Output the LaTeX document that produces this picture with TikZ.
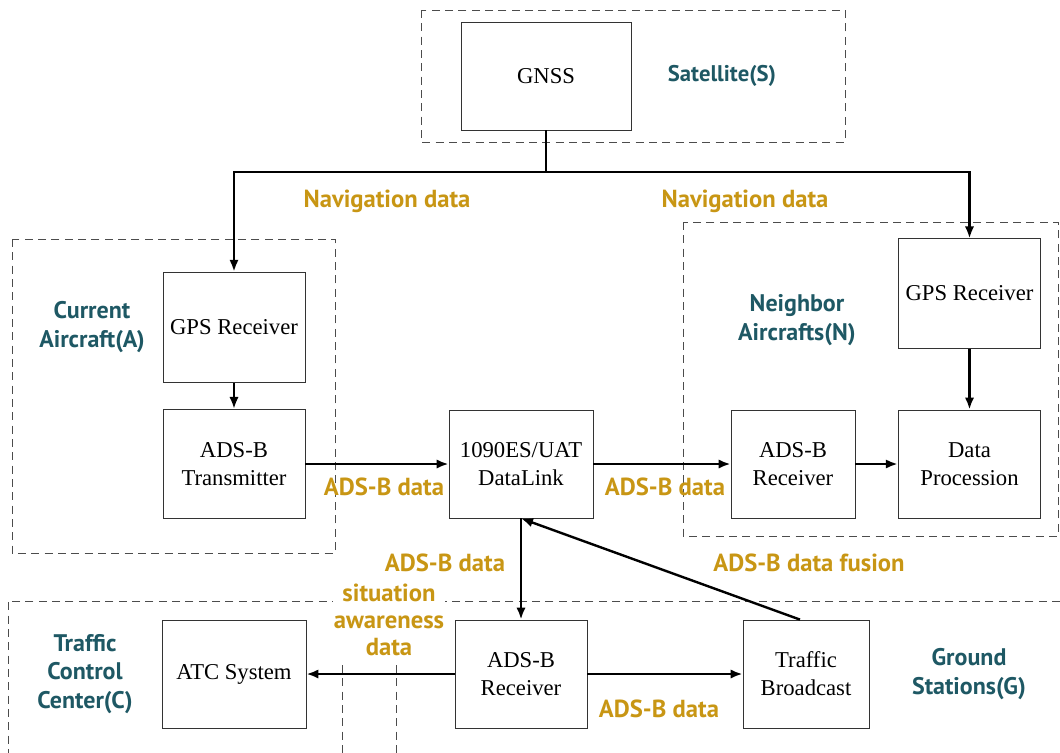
\documentclass[tikz,border=0pt]{standalone}
\usepackage{fontspec}
\setmainfont{Liberation Serif}
\newfontfamily\labelfont{PT Sans}
\usetikzlibrary{arrows.meta}
\definecolor{navgold}{RGB}{200,150,20}
\definecolor{groupteal}{RGB}{30,88,100}

\begin{document}
\begin{tikzpicture}[x=0.75pt, y=-0.75pt,
  box/.style={draw=black!80, line width=0.6pt, align=center, inner sep=0pt,
    minimum height=81pt, font=\fontsize{17}{21}\selectfont},
  group/.style={draw=black!70, dash pattern=on 6pt off 4pt, line width=0.6pt},
  grouplabel/.style={align=center, text=groupteal, inner sep=1pt,
    font=\labelfont\bfseries\fontsize{18}{21.5}\selectfont},
  datalabel/.style={align=center, text=navgold, inner sep=1pt,
    font=\labelfont\bfseries\fontsize{18.5}{20.5}\selectfont},
  flow/.style={-{Latex[length=9pt,width=7pt]}, line width=1.8pt}
]
\useasboundingbox (0,0) rectangle (1060,753);

\draw[group] (421,10) rectangle (845,142);
\draw[group] (12,239) rectangle (335,553);
\draw[group] (683,222) rectangle (1058,536);
\draw[group] (1060,601) -- (8,601) -- (8,753);
\draw[group] (342,665) -- (342,753);
\draw[group] (396,665) -- (396,753);

\node[box, minimum width=127.5pt] (gnss) at (546,76) {GNSS};
\node[box, minimum width=106.5pt, minimum height=83pt] (gpsA) at (234,327.5) {GPS Receiver};
\node[box, minimum width=106.5pt, minimum height=82pt] (trans) at (234,464) {ADS-B\\Transmitter};
\node[box, minimum width=108pt] (link) at (521,464) {1090ES/UAT\\DataLink};
\node[box, minimum width=107pt, minimum height=82pt] (gpsN) at (969.5,293.5) {GPS Receiver};
\node[box, minimum width=107pt] (proc) at (969.5,464) {Data\\Procession};
\node[box, minimum width=93pt] (rxN) at (793,464) {ADS-B\\Receiver};
\node[box, minimum width=108pt] (atc) at (234,674) {ATC System};
\node[box, minimum width=99pt] (rxG) at (521,674) {ADS-B\\Receiver};
\node[box, minimum width=94.5pt] (bcast) at (806,674) {Traffic\\Broadcast};

\node[grouplabel, font=\labelfont\bfseries\fontsize{17}{20}\selectfont] (satS) at (722,76) {Satellite(S)};
\node[grouplabel] (acA) at (92,327) {Current\\Aircraft(A)};
\node[grouplabel] (acN) at (797,320) {Neighbor\\Aircrafts(N)};
\node[grouplabel] (ctrC) at (85,674) {Traffic\\Control\\Center(C)};
\node[grouplabel] (stG) at (969,674) {Ground\\Stations(G)};

\node[datalabel] (navL) at (387,201) {Navigation data};
\node[datalabel] (navR) at (745,201) {Navigation data};
\node[datalabel] (adsTL) at (384,487) {ADS-B data};
\node[datalabel] (adsLN) at (665,487) {ADS-B data};
\node[datalabel] (adsDown) at (445,563) {ADS-B data};
\node[datalabel] (fusion) at (809,563) {ADS-B data fusion};
\node[datalabel, fill=white] (aware) at (389,620) {situation\\awareness\\data};
\node[datalabel] (adsGB) at (659,709) {ADS-B data};

\coordinate (split) at (546,172);
\draw[line width=1.8pt] (gnss.south) -- (split);
\draw[flow] (split) -| (gpsA.north);
\draw[flow] (split) -| (gpsN.north);
\draw[flow] (gpsA) -- (trans);
\draw[flow] (trans) -- (link);
\draw[flow] (link) -- (rxN);
\draw[flow] (rxN) -- (proc);
\draw[flow] (gpsN) -- (proc);
\draw[flow] (link) -- (rxG);
\draw[flow] (rxG) -- (atc);
\draw[flow] (rxG) -- (bcast);
\draw[flow] ([xshift=-4.5pt]bcast.north) -- (link.south);
\end{tikzpicture}
\end{document}
